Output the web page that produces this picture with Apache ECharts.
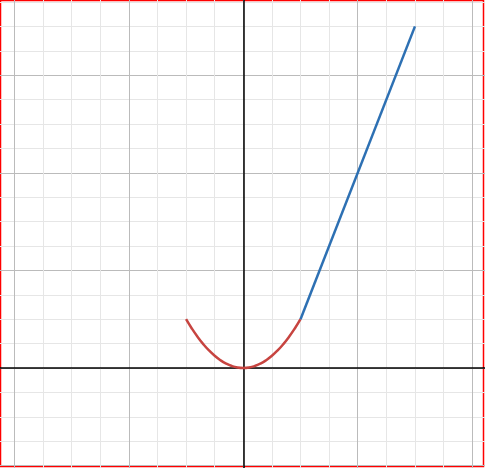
<!DOCTYPE html>
<html><head><meta charset="utf-8">
<script src="https://cdn.jsdelivr.net/npm/echarts@6/dist/echarts.min.js"></script>
<style>html,body{margin:0;padding:0;background:#fff}#c{width:485px;height:468px}</style>
</head><body><div id="c"></div>
<script>
// curve readings
var parabolaX = [-1, -0.9, -0.8, -0.7, -0.6, -0.5, -0.4, -0.3, -0.2, -0.1, 0, 0.1, 0.2, 0.3, 0.4, 0.5, 0.6, 0.7, 0.8, 0.9, 1]
var parabolaY = [1, 0.81, 0.64, 0.49, 0.36, 0.25, 0.16, 0.09, 0.04, 0.01, 0, 0.01, 0.04, 0.09, 0.16, 0.25, 0.36, 0.49, 0.64, 0.81, 1]
var lineX = [1, 3]
var lineY = [1, 7]
var xLabels = [-4, -2, 0, 2, 4]
var yLabels = [-2, 2, 4, 6]

function zip(a, b) { return a.map(function (v, i) { return [v, b[i]] }) }

var chart = echarts.init(document.getElementById('c'))
var axisCommon = {
  type: 'value', interval: 2,
  axisLine: { onZero: true, lineStyle: { color: '#000', width: 1.5 } },
  axisTick: { show: false },
  splitLine: { lineStyle: { color: '#bbb', width: 1 } },
  minorTick: { show: true, splitNumber: 4, length: 0 },
  minorSplitLine: { show: true, lineStyle: { color: '#e6e6e6', width: 1 } }
}
chart.setOption({
  animation: false,
  grid: { left: -100, right: -101.6, top: -22.4, bottom: -95.2, outerBoundsMode: 'none', containLabel: false },
  xAxis: Object.assign({}, axisCommon, {
    min: -6, max: 6,
    axisLabel: {
      color: '#333', fontSize: 15, fontFamily: 'Arial', margin: 4,
      formatter: function (v) { return xLabels.indexOf(v) >= 0 ? (v === 0 ? '0   ' : '' + v) : '' }
    }
  }),
  yAxis: Object.assign({}, axisCommon, {
    min: -4, max: 8,
    axisLabel: {
      color: '#333', fontSize: 15, fontFamily: 'Arial', margin: 5,
      formatter: function (v) { return yLabels.indexOf(v) >= 0 ? '' + v : '' }
    }
  }),
  series: [
    { type: 'line', data: zip(parabolaX, parabolaY), smooth: true, showSymbol: false,
      lineStyle: { color: '#c74440', width: 2.5 } },
    { type: 'line', data: zip(lineX, lineY), showSymbol: false,
      lineStyle: { color: '#2d70b3', width: 2.5 } }
  ],
  graphic: [{ type: 'rect', shape: { x: 0.5, y: 0.5, width: 483, height: 466 },
    style: { fill: 'none', stroke: '#f00', lineWidth: 1.5 } }]
})
</script></body></html>
